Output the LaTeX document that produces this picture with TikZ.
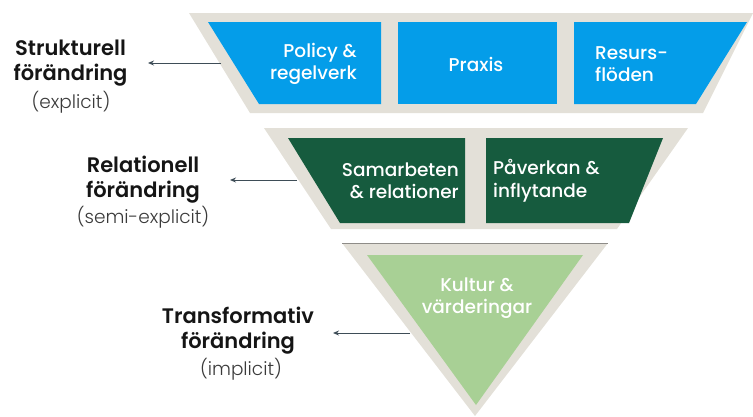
\documentclass[tikz,border=0pt]{standalone}
\usepackage{fontspec}
\setmainfont{Poppins}
\newfontfamily\labfont{Poppins SemiBold}
\newfontfamily\boxfont{Poppins Medium}
\newfontfamily\parfont{Poppins Light}
\usetikzlibrary{arrows.meta}
\definecolor{beige}{HTML}{E3E0D8}
\definecolor{sky}{HTML}{049DE9}
\definecolor{darkgreen}{HTML}{165B3E}
\definecolor{lightgreen}{HTML}{A8D095}
\definecolor{arrowgray}{HTML}{3E4D57}
\definecolor{topline}{HTML}{8E8C88}
\definecolor{labtext}{HTML}{151515}
\definecolor{partext}{HTML}{3A3A3A}
\tikzset{
  band/.style={fill=beige},
  bluebox/.style={fill=sky},
  greenbox/.style={fill=darkgreen},
  kulturbox/.style={fill=lightgreen},
  boxtext/.style={text=white, inner sep=0pt, font=\boxfont\fontsize{18.5}{22.5}\selectfont},
  labtxt/.style={text=labtext, inner sep=0pt, align=center, font=\labfont\fontsize{21}{25}\selectfont},
  partxt/.style={text=partext, inner sep=0pt, font=\parfont\fontsize{18.5}{20}\selectfont},
  pointer/.style={draw=arrowgray, line width=1pt, -{Stealth[length=6pt,width=5pt]}}
}
\begin{document}
\begin{tikzpicture}[x=1pt,y=-1pt]
\useasboundingbox (0,0) rectangle (753,416);
% bands
\fill[band] (189,13) -- (753,13) -- (703,113) -- (250,113) -- cycle;
\fill[band] (264,128) -- (688,128) -- (617,229) -- (331,229) -- cycle;
\fill[band] (342,243) -- (608,243) -- (475,416) -- cycle;
\draw[topline, line width=1.3pt] (342,243.5) -- (608,243.5);
% blue boxes
\fill[bluebox] (208,22) -- (381,22) -- (381,104) -- (259,104) -- cycle;
\fill[bluebox] (398,22) -- (557,22) -- (557,104) -- (398,104) -- cycle;
\fill[bluebox] (574,22) -- (747,22) -- (696,104) -- (574,104) -- cycle;
% green boxes
\fill[greenbox] (288,138) -- (465,138) -- (465,223) -- (340,223) -- cycle;
\fill[greenbox] (486,138) -- (663,138) -- (629,223) -- (486,223) -- cycle;
% light green triangle
\fill[kulturbox] (367,255) -- (583,255) -- (476,405) -- cycle;
% box texts
\node[boxtext, align=right, anchor=east] (policy) at (357,64) {Policy \&\\regelverk};
\node[boxtext, align=center] (praxis) at (476,64) {Praxis};
\node[boxtext, align=left, anchor=west] (resurs) at (595,64) {Resurs-\\flöden};
\node[boxtext, align=right, anchor=east] (samarb) at (459,181) {Samarbeten\\\& relationer};
\node[boxtext, align=left, anchor=west] (paverk) at (493,181) {Påverkan \&\\inflytande};
\node[boxtext, align=center] (kultur) at (477,298) {Kultur \&\\värderingar};
% left labels
\node[labtxt] (strukt) at (70.5,63) {Strukturell\\förändring};
\node[partxt] (explicit) at (71,102) {(explicit)};
\node[labtxt] (relat) at (143,180) {Relationell\\förändring};
\node[partxt] (semiexp) at (143,217) {(semi-explicit)};
\node[labtxt] (transf) at (238,331) {Transformativ\\förändring};
\node[partxt] (implicit) at (241,369) {(implicit)};
% pointers
\coordinate (e1) at (221,63);
\coordinate (t1) at (148,63);
\coordinate (e2) at (297,180);
\coordinate (t2) at (230,180);
\coordinate (e3) at (410,333);
\coordinate (t3) at (333,333);
\draw[pointer] (e1) -- (t1);
\draw[pointer] (e2) -- (t2);
\draw[pointer] (e3) -- (t3);
\end{tikzpicture}
\end{document}
